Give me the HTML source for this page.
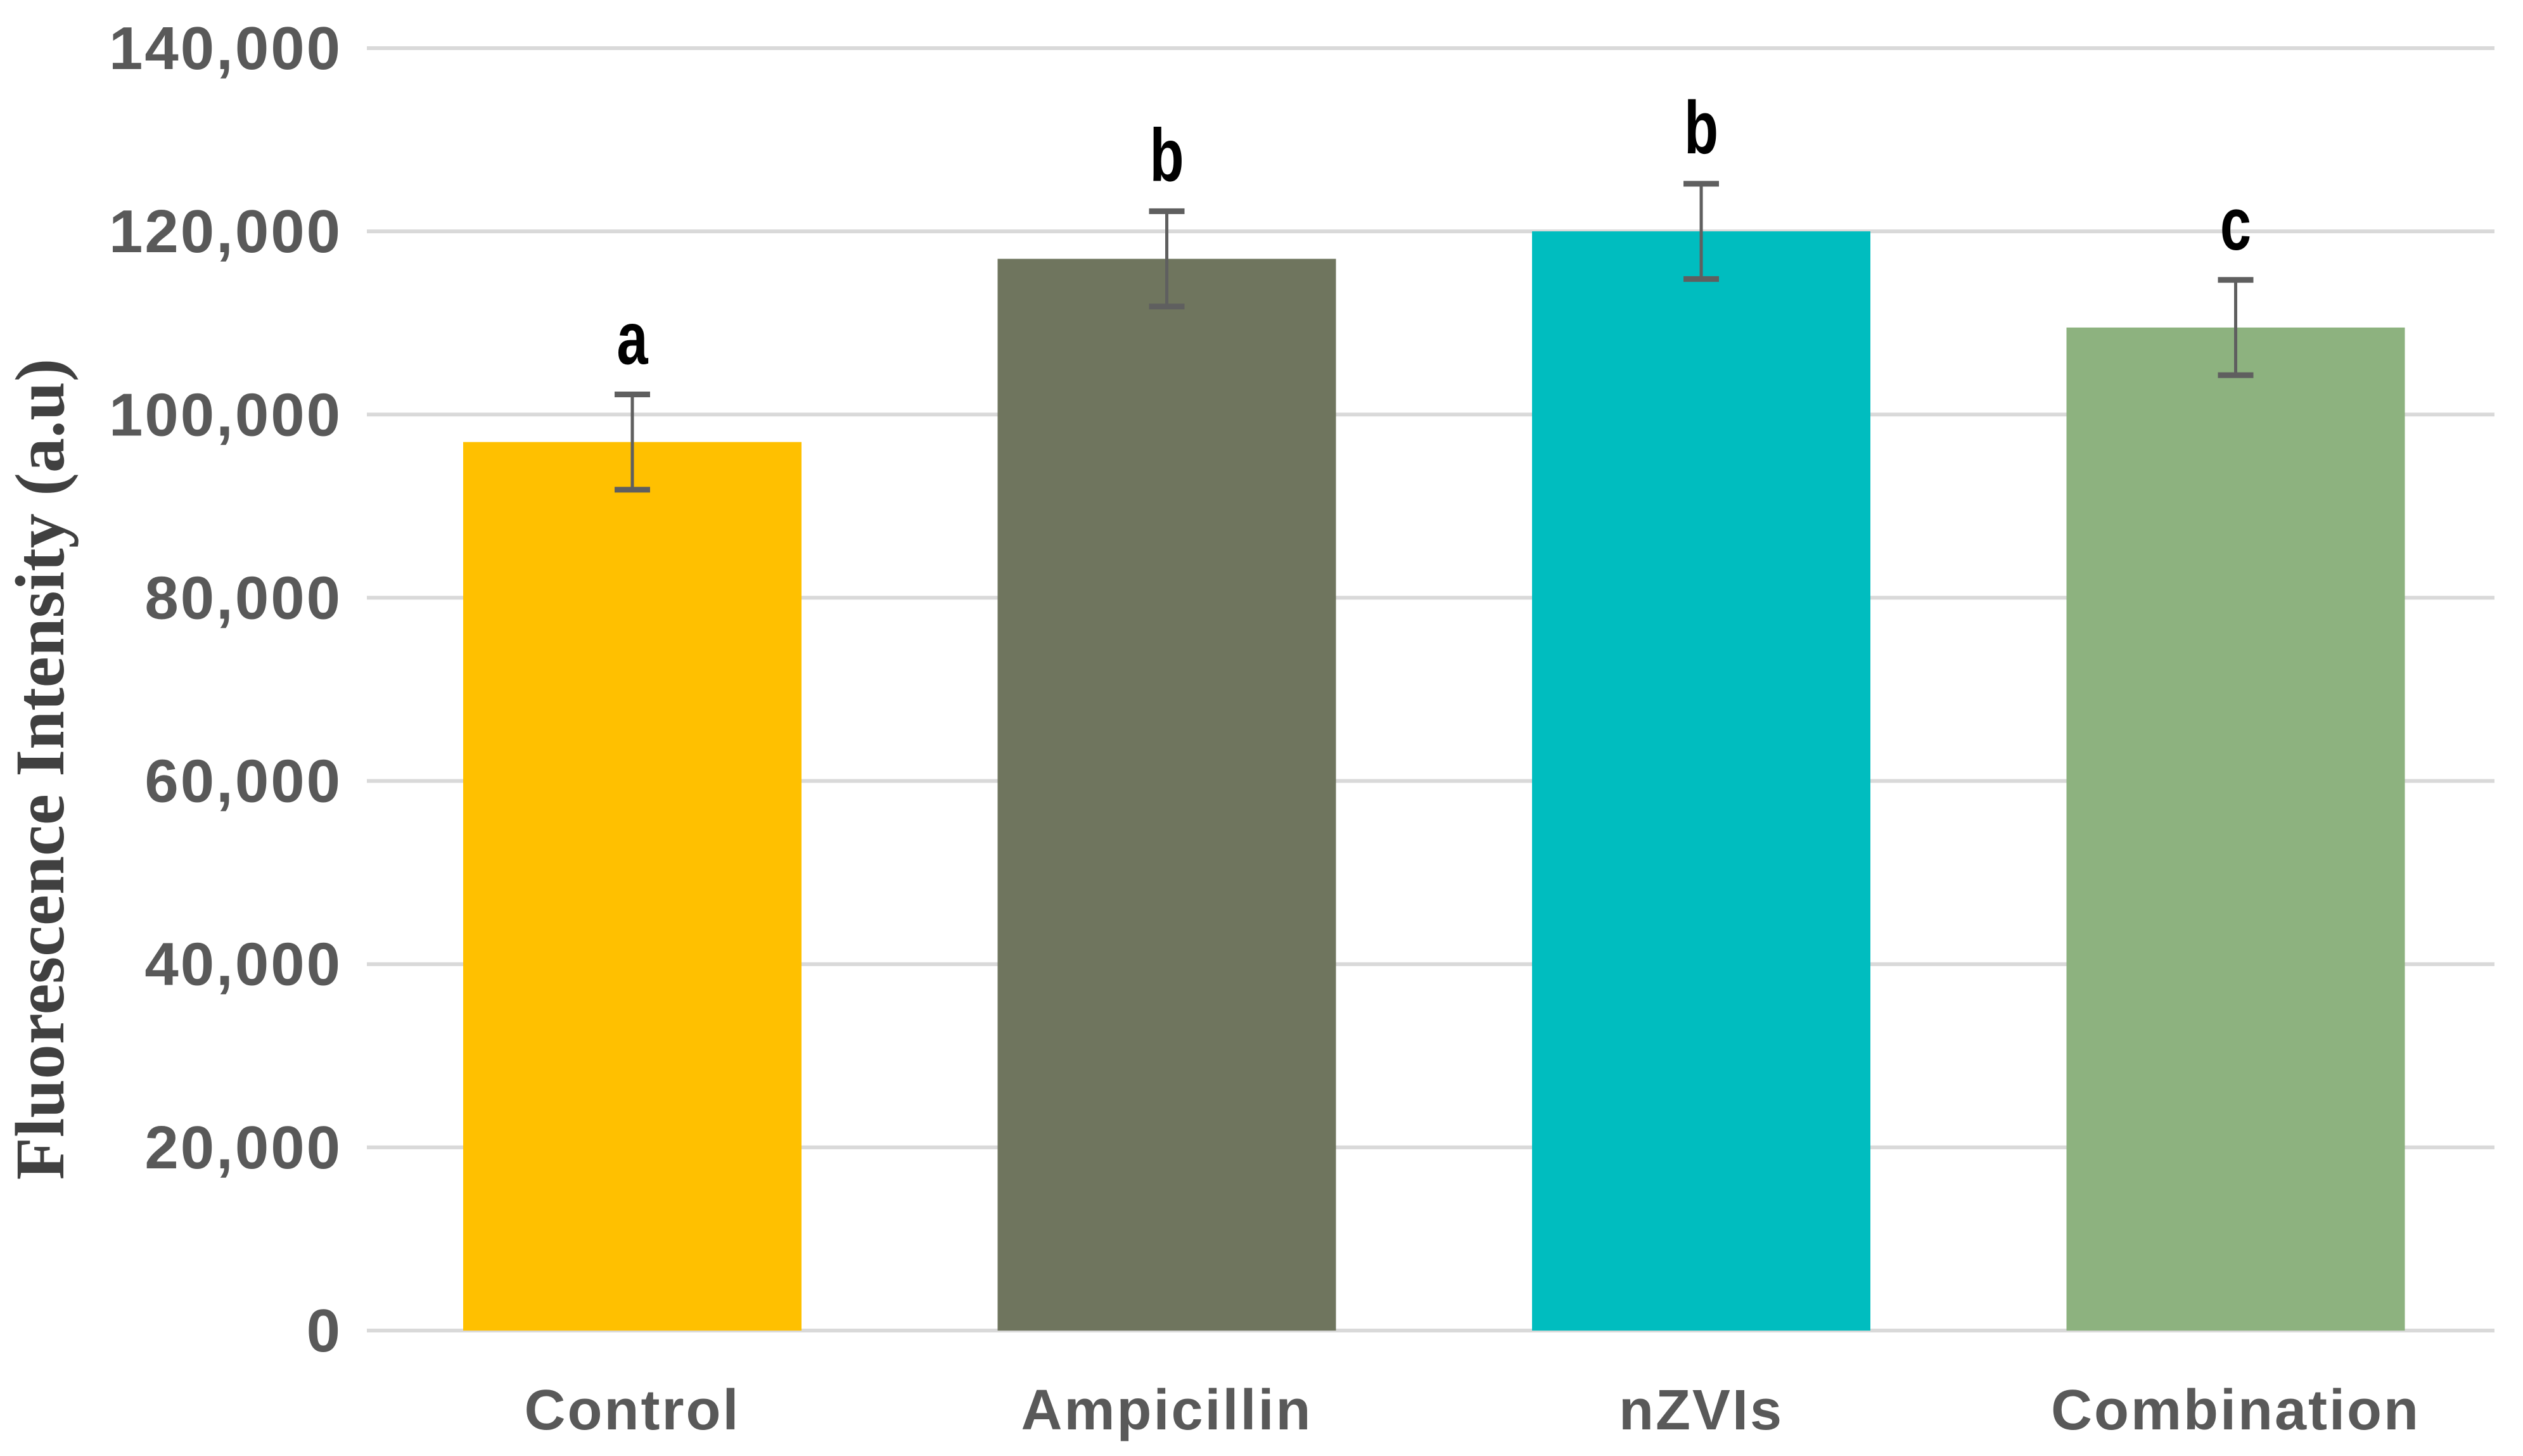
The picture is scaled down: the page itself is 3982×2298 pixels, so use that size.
<!DOCTYPE html>
<html><head><meta charset="utf-8"><style>
html,body{margin:0;padding:0;background:#fff;}
svg{display:block;}
</style></head><body>
<svg id="chart" width="3982" height="2298" viewBox="0 0 3982 2298" xmlns="http://www.w3.org/2000/svg">
<g id="grid"></g>
<g id="yticks"></g>
<g id="bars"></g>
<g id="errs"></g>
<g id="letters"></g>
<g id="xlabels"></g>
<text x="0" y="0" transform="translate(100,1214) rotate(-90)" text-anchor="middle" font-family="'Liberation Serif',serif" font-weight="bold" font-size="110" fill="#404040">Fluorescence Intensity (a.u)</text>
</svg>
<script>
const categories = ["Control", "Ampicillin", "nZVIs", "Combination"];
const values = [97000, 117000, 120000, 109500];
const errors = [5200, 5200, 5200, 5200];
const letters = ["a", "b", "b", "c"];
const colors = ["#FFC000", "#6F755E", "#00BDBF", "#8DB27F"];
const ticks = [0, 20000, 40000, 60000, 80000, 100000, 120000, 140000];
const tickLabels = ["0", "20,000", "40,000", "60,000", "80,000", "100,000", "120,000", "140,000"];

const NS = "http://www.w3.org/2000/svg";
const plotL = 579, plotR = 3937, y0 = 2100, yTop = 76, yMax = 140000;
function yScale(v){ return y0 - (v / yMax) * (y0 - yTop); }
const band = 843.5;
const barW = 534;
function xCenter(i){ return 998 + band * i; }
function mk(tag, attrs, parent){
  const e = document.createElementNS(NS, tag);
  for (const k in attrs) e.setAttribute(k, attrs[k]);
  parent.appendChild(e); return e;
}
const grid = document.getElementById("grid"), yt = document.getElementById("yticks");
ticks.forEach((t, i) => {
  const y = yScale(t);
  const l = mk("line", {x1: plotL, x2: plotR, y1: y, y2: y, stroke: "#d9d9d9", "stroke-width": 6}, grid);
  
  
  const tx = mk("text", {x: 540, y: y + 33, "text-anchor": "end", "font-family": "'Liberation Sans Narrow','Liberation Sans',sans-serif", "font-weight": "bold", "font-size": 96, fill: "#595959", "letter-spacing": 3}, yt);
  tx.textContent = tickLabels[i];
  
  
});
const bars = document.getElementById("bars"), errs = document.getElementById("errs"),
      lets = document.getElementById("letters"), xl = document.getElementById("xlabels");
categories.forEach((c, i) => {
  const cx = xCenter(i), top = yScale(values[i]);
  const r = mk("rect", {x: cx - barW/2, y: top, width: barW, height: y0 - top, fill: colors[i]}, bars);
  
  
  const eTop = yScale(values[i] + errors[i]), eBot = yScale(values[i] - errors[i]);
  const g = mk("g", {stroke: "#5f5f5f"}, errs);
  
  
  mk("line", {x1: cx, x2: cx, y1: eTop, y2: eBot, "stroke-width": 5}, g);
  mk("line", {x1: cx - 28, x2: cx + 28, y1: eTop, y2: eTop, "stroke-width": 9}, g);
  mk("line", {x1: cx - 28, x2: cx + 28, y1: eBot, y2: eBot, "stroke-width": 9}, g);
  const lt = mk("text", {x: 0, y: 0, transform: "translate(" + cx + "," + (eTop - 48) + ") scale(0.75,1)", "text-anchor": "middle", "font-family": "'Liberation Sans',sans-serif", "font-weight": "bold", "font-size": 118, fill: "#000"}, lets);
  lt.textContent = letters[i];
  
  
  const xt = mk("text", {x: cx, y: 2256, "text-anchor": "middle", "font-family": "'Liberation Sans',sans-serif", "font-weight": "bold", "font-size": 90, fill: "#595959", "letter-spacing": 3}, xl);
  xt.textContent = c;
  
  
});
</script>
</body></html>
